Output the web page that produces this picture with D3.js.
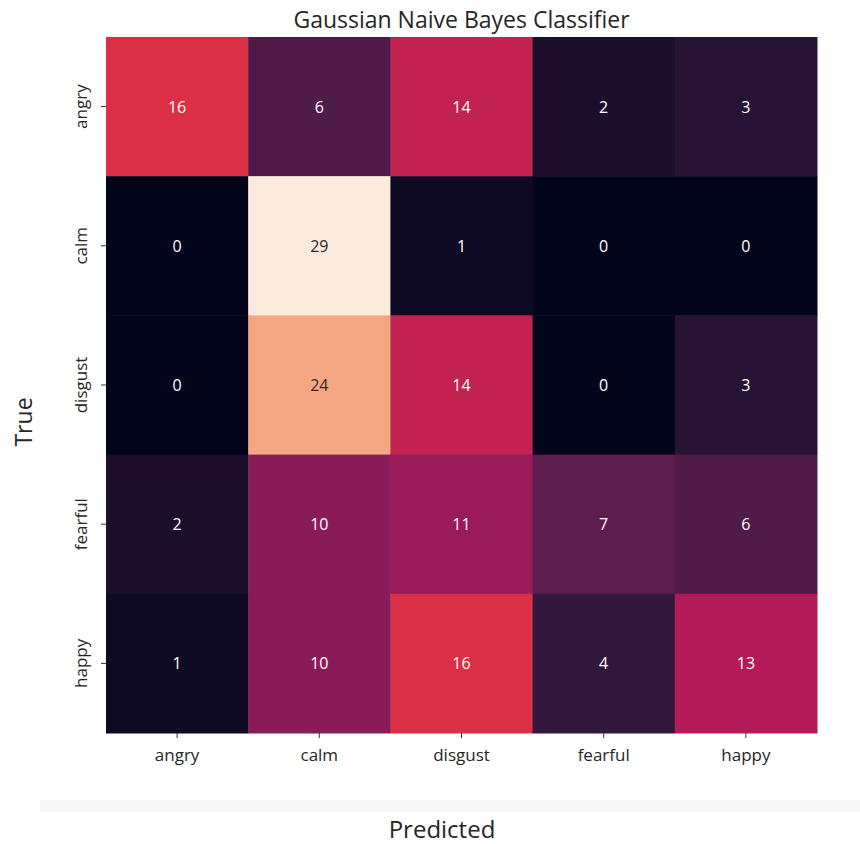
<!DOCTYPE html>
<html>
<head>
<meta charset="utf-8">
<script src="https://cdn.jsdelivr.net/npm/d3@7"></script>
<style>
  html, body { margin: 0; padding: 0; background: #fff; }
  svg { display: block; font-family: "Open Sans", "DejaVu Sans", sans-serif; }
</style>
</head>
<body>
<svg id="chart" width="860" height="844"></svg>
<script>
// Class labels (rows = true class, columns = predicted class)
const trueLabels = ["angry", "calm", "disgust", "fearful", "happy"];
const predictedLabels = ["angry", "calm", "disgust", "fearful", "happy"];

// Confusion-matrix counts, one array per true class
const angryRow   = [16, 6, 14, 2, 3];
const calmRow    = [0, 29, 1, 0, 0];
const disgustRow = [0, 24, 14, 0, 3];
const fearfulRow = [2, 10, 11, 7, 6];
const happyRow   = [1, 10, 16, 4, 13];
const matrix = [angryRow, calmRow, disgustRow, fearfulRow, happyRow];

const title = "Gaussian Naive Bayes Classifier";
const xTitle = "Predicted";
const yTitle = "True";

const svg = d3.select("#chart");
const W = 860, H = 844;
const plot = { left: 106, right: 817, top: 37, bottom: 733 };

// faint band below the tick labels
svg.append("rect")
  .attr("x", 40).attr("y", 800).attr("width", W - 40).attr("height", 12)
  .attr("fill", "#f7f7f7");

const x = d3.scaleBand().domain(predictedLabels).range([plot.left, plot.right]).padding(0);
const y = d3.scaleBand().domain(trueLabels).range([plot.top, plot.bottom]).padding(0);

// "rocket" colour map sampled at fixed stops
const cells = [];
matrix.forEach((row, i) => row.forEach((v, j) => cells.push({ t: trueLabels[i], p: predictedLabels[j], v })));
const vmin = d3.min(cells, d => d.v), vmax = d3.max(cells, d => d.v);
const rocketStops = ["#03051a", "#35193e", "#701f57", "#ad1759", "#e13342", "#f37651", "#f6b48f", "#faebdd"];
const stopPos = [0, 1/7, 2/7, 3/7, 4/7, 5/7, 6/7, 1];
const norm = d3.scaleLinear().domain([vmin, vmax]).range([0, 1]);
const rocket = d3.scaleLinear().domain(stopPos).range(rocketStops).interpolate(d3.interpolateRgb);
const color = v => rocket(norm(v));

svg.append("g").selectAll("rect")
  .data(cells)
  .join("rect")
  .attr("x", d => x(d.p))
  .attr("y", d => y(d.t))
  .attr("width", x.bandwidth() + 0.5)
  .attr("height", y.bandwidth() + 0.5)
  .attr("fill", d => color(d.v));

// cell annotations: light text on dark cells, dark text on light cells
svg.append("g").selectAll("text")
  .data(cells)
  .join("text")
  .attr("x", d => x(d.p) + x.bandwidth() / 2)
  .attr("y", d => y(d.t) + y.bandwidth() / 2)
  .attr("text-anchor", "middle")
  .attr("dominant-baseline", "central")
  .attr("font-size", 16)
  .attr("fill", d => d3.hsl(color(d.v)).l > 0.6 ? "#2a2a2a" : "#ffffff")
  .text(d => d.v);

// x axis
const xAxis = svg.append("g")
  .attr("transform", `translate(0,${plot.bottom})`)
  .call(d3.axisBottom(x).tickSize(5).tickPadding(11));
xAxis.select(".domain").remove();
xAxis.selectAll(".tick line").attr("stroke", "#333");
xAxis.selectAll(".tick text").attr("font-size", 17).attr("fill", "#262626")
  .attr("font-family", "Open Sans, sans-serif");

// y axis with rotated tick labels
const yAxis = svg.append("g")
  .attr("transform", `translate(${plot.left},0)`)
  .call(d3.axisLeft(y).tickSize(5).tickPadding(8));
yAxis.select(".domain").remove();
yAxis.selectAll(".tick line").attr("stroke", "#333");
yAxis.selectAll(".tick text")
  .attr("font-size", 17).attr("fill", "#262626")
  .attr("font-family", "Open Sans, sans-serif")
  .attr("x", null).attr("dy", null)
  .attr("text-anchor", "middle")
  .attr("transform", "translate(-19,0) rotate(-90)");

// titles
svg.append("text")
  .attr("x", (plot.left + plot.right) / 2).attr("y", 28)
  .attr("text-anchor", "middle").attr("font-size", 23).attr("fill", "#262626")
  .text(title);

svg.append("text")
  .attr("x", 442).attr("y", 838)
  .attr("text-anchor", "middle").attr("font-size", 24).attr("fill", "#262626")
  .text(xTitle);

svg.append("text")
  .attr("transform", "translate(32,422) rotate(-90)")
  .attr("text-anchor", "middle").attr("font-size", 23).attr("fill", "#262626")
  .text(yTitle);
</script>
</body>
</html>
